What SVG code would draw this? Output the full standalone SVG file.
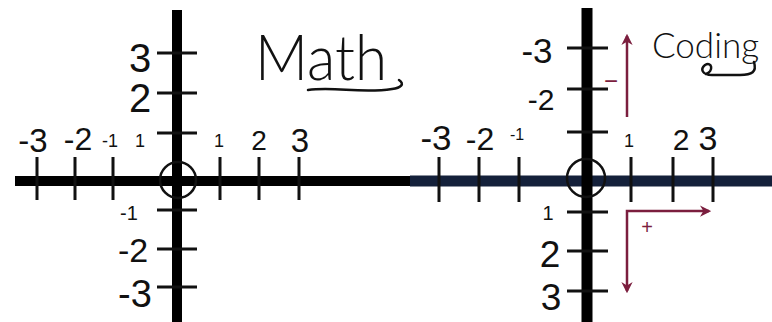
<svg xmlns="http://www.w3.org/2000/svg" width="772" height="322" viewBox="0 0 772 322">
<defs>
<style>
.ax{stroke:#000;stroke-width:10;fill:none}
.axn{stroke:#14203a;stroke-width:11;fill:none}
.tk{stroke:#111;stroke-width:3;fill:none}
.org{stroke:#111;stroke-width:2.5;fill:none}
.lb{font-family:"Liberation Sans",Arial,sans-serif;fill:#111;text-anchor:middle}
.ttl{font-family:Lato,"Open Sans",sans-serif;font-weight:300;fill:#111}
.sw{stroke:#111;stroke-width:2.5;fill:none;stroke-linecap:round}
.ar{stroke:#7b1e3e;stroke-width:2.5;fill:none}
.rd{font-family:"Liberation Sans",Arial,sans-serif;fill:#7b1e3e;text-anchor:middle}
</style>
<marker id="ah" viewBox="0 0 10 10" refX="8" refY="5" markerWidth="4.5" markerHeight="4.5" orient="auto-start-reverse" markerUnits="strokeWidth">
<path d="M0,0 L10,5 L0,10 L3,5 Z" fill="#7b1e3e"/>
</marker>
</defs>
<rect width="772" height="322" fill="#fff"/>

<g id="math-plane">
<line class="ax" x1="15" y1="181" x2="412" y2="181"/>
<line class="ax" x1="177" y1="10" x2="177" y2="322"/>
<path class="tk" d="M37,157V200M75,157V200M113,157V200M220,157V200M259,157V200M299,157V200"/>
<path class="tk" d="M157,53H197M157,93H197M157,133H197M157,210H197M157,249H197M157,287H197"/>
<circle class="org" cx="178" cy="180" r="18"/>
<text class="lb" x="140" y="72" font-size="40">3</text>
<text class="lb" x="140" y="112" font-size="40">2</text>
<text class="lb" x="140" y="147" font-size="18">1</text>
<text class="lb" x="33" y="152" font-size="33">-3</text>
<text class="lb" x="78" y="150" font-size="32">-2</text>
<text class="lb" x="110" y="147" font-size="18">-1</text>
<text class="lb" x="219" y="147" font-size="18">1</text>
<text class="lb" x="259" y="150" font-size="28">2</text>
<text class="lb" x="300" y="152" font-size="33">3</text>
<text class="lb" x="129" y="220" font-size="20">-1</text>
<text class="lb" x="133" y="262" font-size="34">-2</text>
<text class="lb" x="135" y="307" font-size="38">-3</text>
</g>

<g id="math-title">
<text class="ttl" x="255" y="80" font-size="64" textLength="132" lengthAdjust="spacingAndGlyphs">Math</text>
<path class="sw" d="M308,90 C335,86 360,94 392,89 C401,88 405,84 399,80"/>
</g>

<g id="coding-plane">
<line class="ax" x1="400" y1="181" x2="411" y2="181"/>
<line class="axn" x1="410" y1="181" x2="772" y2="181"/>
<line class="ax" x1="587" y1="8" x2="587" y2="322" style="stroke-width:11"/>
<path class="tk" d="M439,157V202M479,157V202M519,157V202M631,157V202M673,157V202M713,157V202"/>
<path class="tk" d="M567,48H608M567,89H608M567,132H608M567,212H608M567,251H608M567,291H608"/>
<circle class="org" cx="586" cy="178" r="19"/>
<text class="lb" x="537" y="63" font-size="35">-3</text>
<text class="lb" x="541" y="110" font-size="30">-2</text>
<text class="lb" x="436" y="150" font-size="35">-3</text>
<text class="lb" x="480" y="150" font-size="32">-2</text>
<text class="lb" x="517" y="140" font-size="16">-1</text>
<text class="lb" x="629" y="147" font-size="18">1</text>
<text class="lb" x="681" y="150" font-size="30">2</text>
<text class="lb" x="708" y="150" font-size="34">3</text>
<text class="lb" x="548" y="220" font-size="20">1</text>
<text class="lb" x="550" y="267" font-size="37">2</text>
<text class="lb" x="551" y="310" font-size="37">3</text>
</g>

<g id="coding-title">
<text class="ttl" x="652" y="58" font-size="35">Coding</text>
<path class="sw" d="M754,62 C757,72 752,75 740,75 L712,75 C702,75 700,69 705,65 C712,61 714,71 706,74"/>
</g>

<g id="connectors">
<line class="ar" x1="627" y1="117" x2="627" y2="36" marker-end="url(#ah)"/>
<path class="ar" d="M627,291 L627,211 L709,211" marker-start="url(#ah)" marker-end="url(#ah)"/>
<text class="rd" x="611" y="89" font-size="24">−</text>
<text class="rd" x="647" y="234" font-size="20">+</text>
</g>
</svg>
